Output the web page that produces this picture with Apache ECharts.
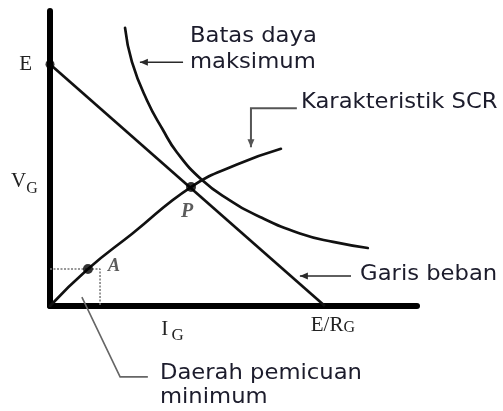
<!DOCTYPE html>
<html>
<head>
<meta charset="utf-8">
<script src="https://cdn.jsdelivr.net/npm/echarts@6/dist/echarts.min.js"></script>
<style>
  html, body { margin: 0; padding: 0; background: #fff; }
  #c { width: 503px; height: 411px; }
</style>
</head>
<body>
<div id="c"></div>
<script>
// Gate circuit of an SCR, normalised units: E = 10 on V_G, E/R_G = 10 on I_G.

// Load line V_G = E - I_G * R_G
const loadLineI = [0, 10];
const loadLineV = [10, 0];

// SCR gate characteristic
const scrI = [0, 1.38, 3.0, 5.13, 6.8, 8.4];
const scrV = [0, 1.53, 3.0, 4.92, 5.85, 6.5];

// Maximum gate power limit
const powI = [2.73, 2.98, 3.53, 4.1, 4.62, 5.53, 6.5, 7.64, 9.09, 10.3, 11.56];
const powV = [11.5, 10.1, 8.5, 7.3, 6.35, 5.21, 4.4, 3.68, 3.0, 2.65, 2.4];

// Marked points
const pointNames = ['E', 'A', 'P'];
const pointI = [0, 1.38, 5.13];
const pointV = [10, 1.53, 4.92];

// Right edge of the minimum triggering region
const minTrigI = 1.82;

// Axis tick labels
const yTickValues = [10];
const yTickLabels = ['E'];
const xTickValues = [10];
const xTickLabels = ['E/RG'];

const zip = (a, b) => a.map((v, i) => [v, b[i]]);
const SERIF = '"Liberation Serif", "DejaVu Serif", serif';
const SANS = '"DejaVu Sans", Verdana, sans-serif';
const INK = '#1c1c2c';

const chart = echarts.init(document.getElementById('c'), null, { renderer: 'canvas' });

const pointLabels = {
  E: { show: false },
  A: { show: true, position: 'inside', offset: [26, -3], formatter: 'A',
       fontFamily: SERIF, fontStyle: 'italic', fontWeight: 'bold', fontSize: 18, color: '#333' },
  P: { show: true, position: 'inside', offset: [-4, 25], formatter: 'P',
       fontFamily: SERIF, fontStyle: 'italic', fontWeight: 'bold', fontSize: 20, color: '#333' }
};

chart.setOption({
  animation: false,
  backgroundColor: '#fff',
  grid: { left: 50, top: 11, right: 86, bottom: 105, containLabel: false },
  xAxis: {
    type: 'value', min: 0, max: 13.35,
    axisLine: { show: true, onZero: false, lineStyle: { color: '#000', width: 6, cap: 'round' } },
    axisTick: { show: false },
    splitLine: { show: false },
    axisLabel: {
      show: true,
      customValues: xTickValues,
      margin: 8,
      padding: [0, 0, 0, 16],
      formatter: (v) => {
        const s = xTickLabels[xTickValues.indexOf(v)] || '';
        return '{a|' + s.slice(0, -1) + '}{b|' + s.slice(-1) + '}';
      },
      rich: {
        a: { fontFamily: SERIF, fontSize: 21, color: '#222', lineHeight: 22, verticalAlign: 'bottom' },
        b: { fontFamily: SERIF, fontSize: 16, color: '#222', lineHeight: 22, verticalAlign: 'bottom' }
      }
    }
  },
  yAxis: {
    type: 'value', min: 0, max: 12.2,
    axisLine: { show: true, onZero: false, lineStyle: { color: '#000', width: 6, cap: 'round' } },
    axisTick: { show: false },
    splitLine: { show: false },
    axisLabel: {
      show: true,
      customValues: yTickValues,
      margin: 18,
      formatter: (v) => yTickLabels[yTickValues.indexOf(v)] || '',
      fontFamily: SERIF, fontSize: 21, color: '#222'
    }
  },
  series: [
    {
      name: 'Garis beban', type: 'line', data: zip(loadLineI, loadLineV),
      symbol: 'none', lineStyle: { color: '#111', width: 2.7 }, z: 3
    },
    {
      name: 'Karakteristik SCR', type: 'line', data: zip(scrI, scrV),
      smooth: 0.5, symbol: 'none',
      lineStyle: { color: '#111', width: 2.7, cap: 'round' }, z: 3
    },
    {
      name: 'Batas daya maksimum', type: 'line', data: zip(powI, powV),
      smooth: 0.5, symbol: 'none',
      lineStyle: { color: '#111', width: 2.7, cap: 'round' }, z: 3
    },
    {
      name: 'Daerah pemicuan minimum', type: 'line',
      data: [[0, pointV[1]], [minTrigI, pointV[1]], [minTrigI, 0]],
      symbol: 'none', lineStyle: { color: '#777', width: 1.5, type: [2, 1.5] }, z: 2
    },
    {
      name: 'Titik', type: 'scatter',
      data: pointNames.map((n, i) => ({
        value: [pointI[i], pointV[i]],
        symbolSize: n === 'E' ? 9 : 10,
        label: pointLabels[n]
      })),
      itemStyle: { color: '#000' }, z: 5
    }
  ]
});

// ---- Annotations: captions and leader arrows, anchored in data units ----
const px = (x, y) => chart.convertToPixel({ gridIndex: 0 }, [x, y]);

function arrowHead(from, to, color, len, half) {
  const dx = to[0] - from[0], dy = to[1] - from[1];
  const d = Math.hypot(dx, dy);
  const ux = dx / d, uy = dy / d;
  const bx = to[0] - ux * len, by = to[1] - uy * len;
  return {
    type: 'polygon', silent: true, z: 10,
    shape: { points: [to, [bx - uy * half, by + ux * half], [bx + uy * half, by - ux * half]] },
    style: { fill: color }
  };
}

function leader(coords, color, width, withArrow) {
  const pts = coords.map(c => px(c[0], c[1]));
  const els = [{
    type: 'polyline', silent: true, z: 10,
    shape: { points: pts },
    style: { stroke: color, lineWidth: width, fill: null }
  }];
  if (withArrow) els.push(arrowHead(pts[pts.length - 2], pts[pts.length - 1], color, 8, 3.5));
  return els;
}

function caption(text, at, font, color, stretch) {
  const p = px(at[0], at[1]);
  return {
    type: 'text', silent: true, z: 10,
    x: p[0], y: p[1], scaleX: stretch || 1,
    style: { text: text, x: 0, y: 0, font: font, fill: color, align: 'left', verticalAlign: 'middle' }
  };
}

const sansFont = '21px ' + SANS;
const graphics = [].concat(
  leader([[4.84, 10.08], [3.27, 10.08]], '#2a2a2a', 1.6, true),
  leader([[8.98, 8.18], [7.31, 8.18], [7.31, 6.57]], '#555', 2, true),
  leader([[10.95, 1.24], [9.09, 1.24]], '#2a2a2a', 1.6, true),
  leader([[1.16, 0.37], [2.55, -2.93], [3.56, -2.93]], '#666', 1.6, false),
  [
    caption('Batas daya', [5.09, 11.14], sansFont, INK, 1.08),
    caption('maksimum', [5.09, 10.07], sansFont, INK, 1.08),
    caption('Karakteristik SCR', [9.13, 8.41], sansFont, INK, 1.08),
    caption('Garis beban', [11.28, 1.30], sansFont, INK, 1.08),
    caption('Daerah pemicuan', [4.0, -2.79], sansFont, INK, 1.08),
    caption('minimum', [4.0, -3.78], sansFont, INK, 1.08),
    caption('V', [-1.42, 5.14], '21px ' + SERIF, '#222', 1),
    caption('G', [-0.86, 4.86], '16px ' + SERIF, '#222', 1),
    caption('I', [4.05, -0.99], '21px ' + SERIF, '#222', 1),
    caption('G', [4.42, -1.24], '17px ' + SERIF, '#222', 1)
  ]
);

chart.setOption({ graphic: graphics });
</script>
</body>
</html>
